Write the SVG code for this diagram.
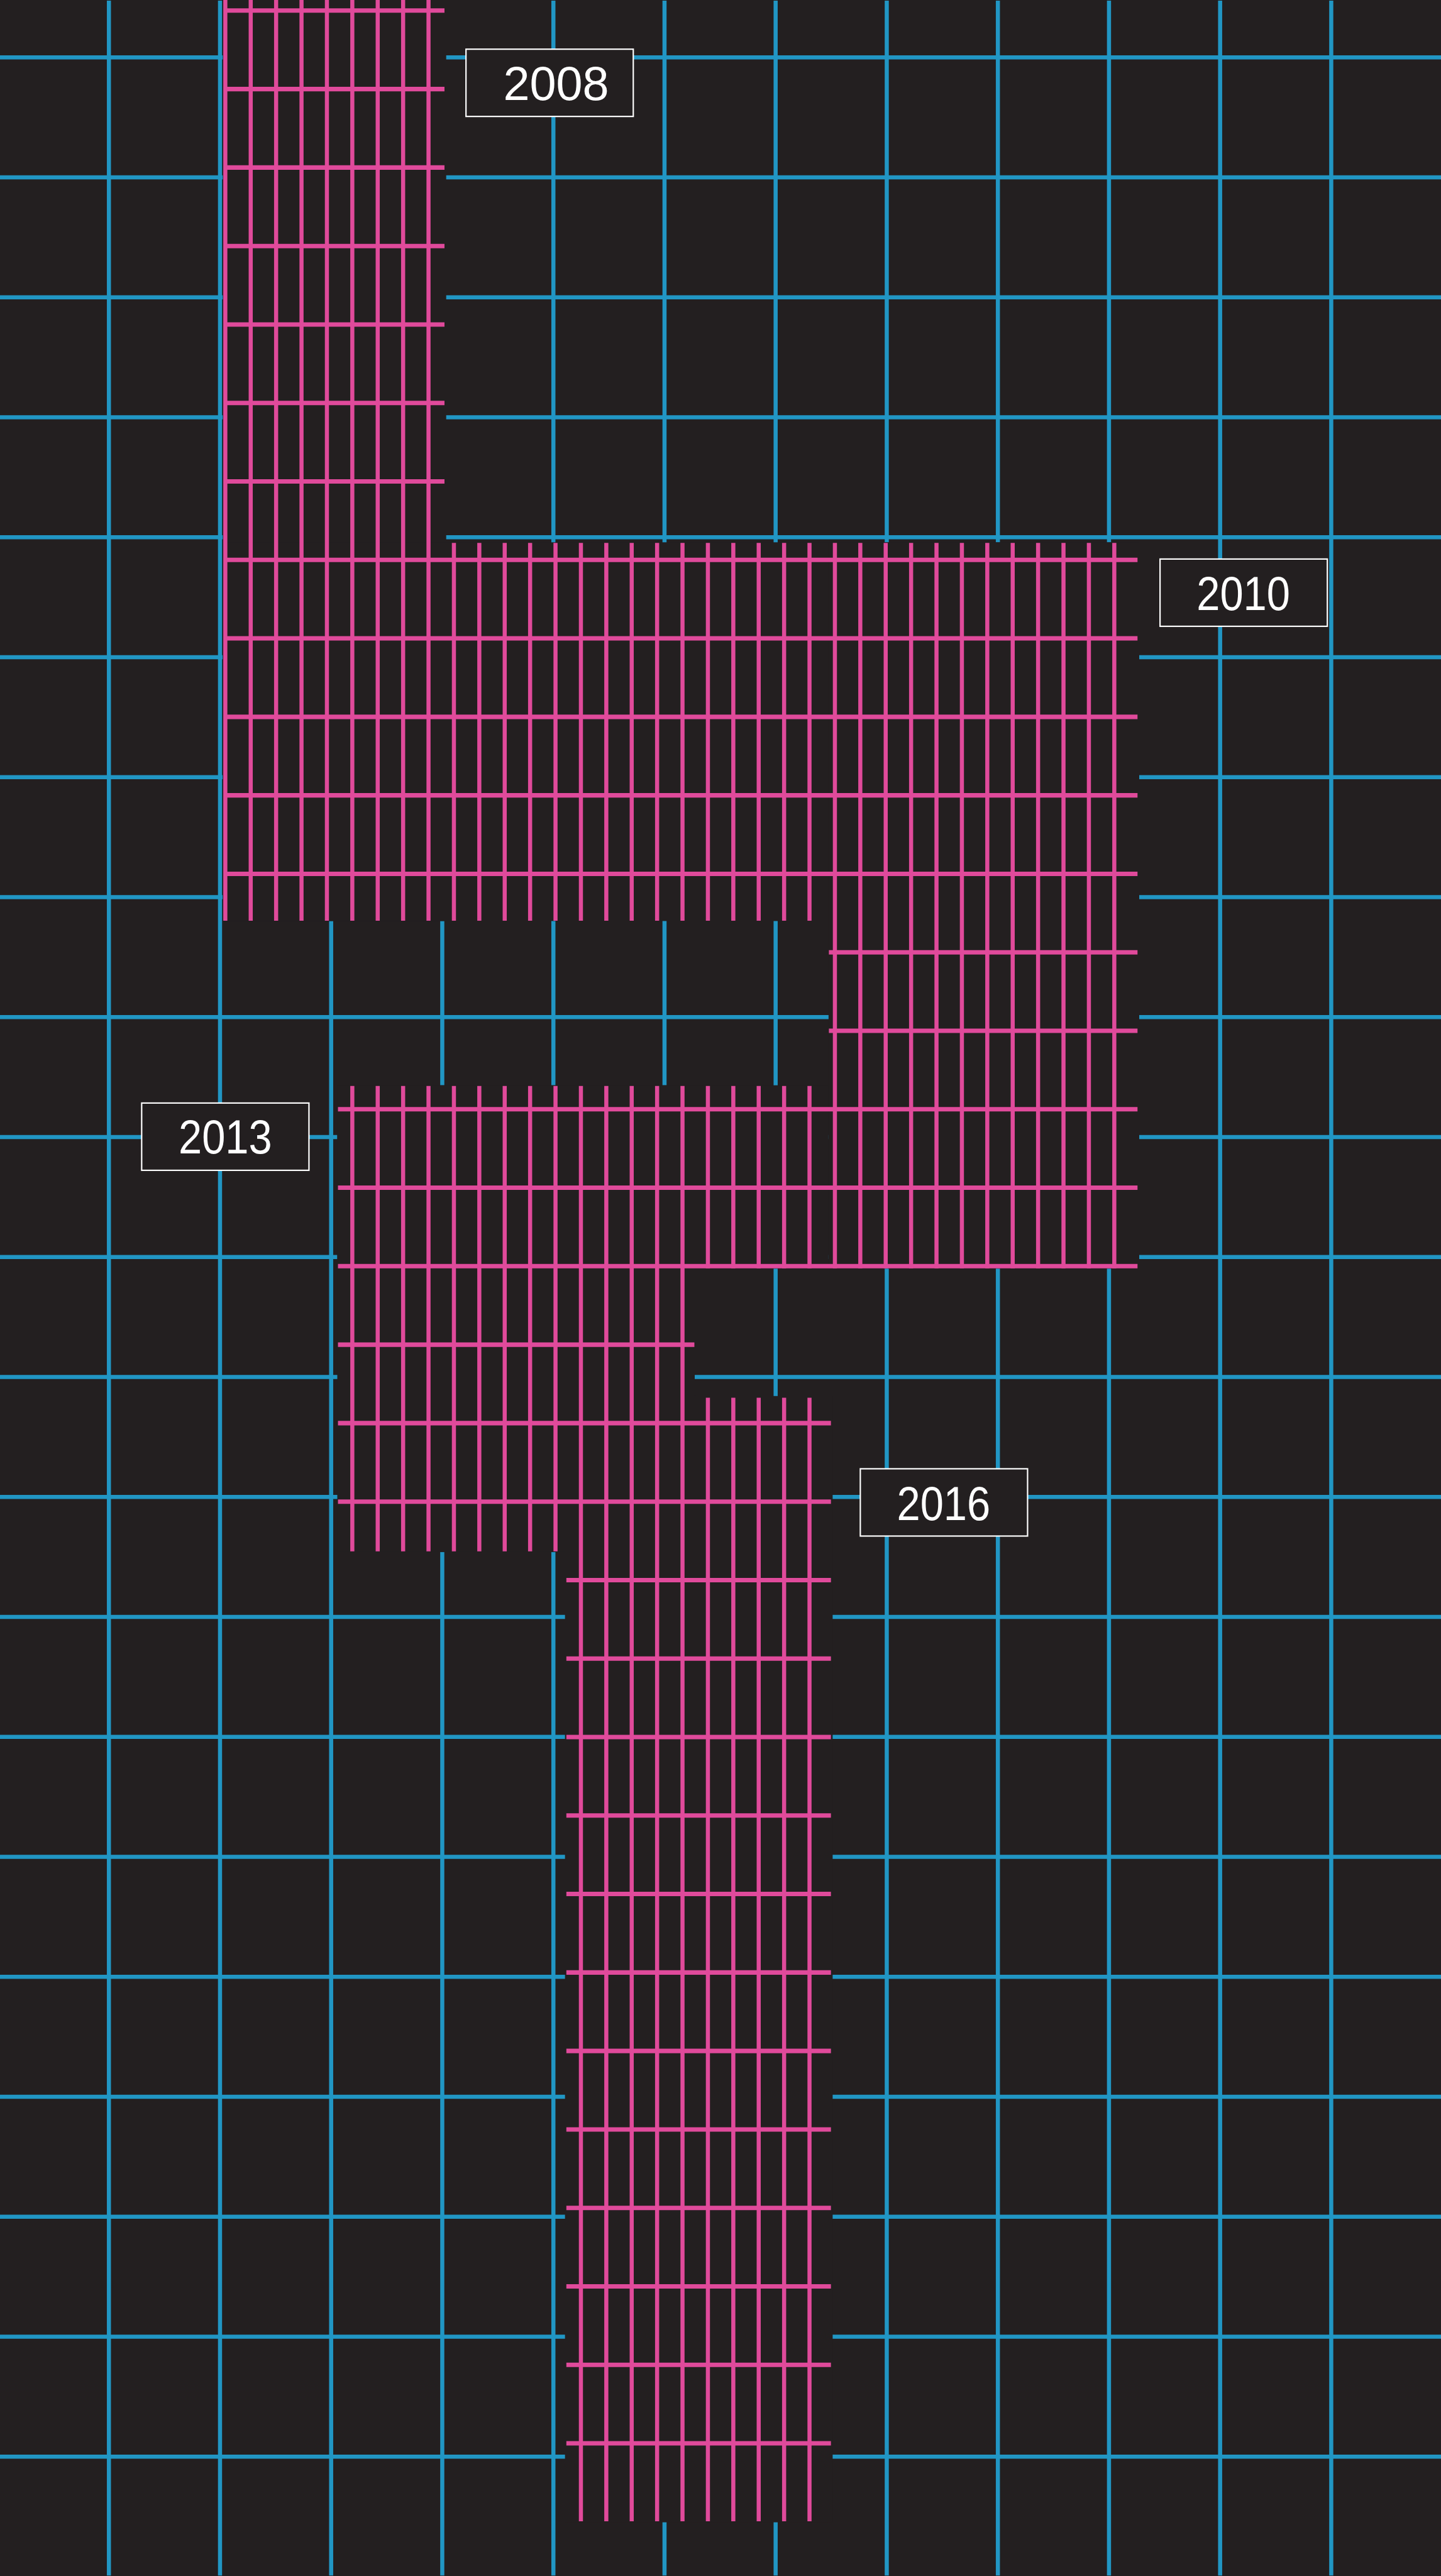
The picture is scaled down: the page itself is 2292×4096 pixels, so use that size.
<svg xmlns="http://www.w3.org/2000/svg" width="2292" height="4096" viewBox="0 0 2292 4096">
<style>
.bg{fill:#231f20}
.blue{stroke:#2196c4;stroke-width:12;fill:none}
.pv{stroke:#e04a9b;stroke-width:12;fill:none}
.ph{stroke:#e04a9b;stroke-width:13;fill:none}
.mask{fill:#231f20}
.box{fill:#231f20;stroke:#ffffff;stroke-width:4}
.yr{font-family:"Liberation Sans",Arial,sans-serif;font-size:140px;fill:#ffffff;text-anchor:middle}
</style>
<rect class="bg" x="0" y="0" width="2292" height="4096"/>
<g transform="scale(0.543)">
<g id="blue-grid">
<path class="blue" d="M0 168H4221M0 519.3H4221M0 870.6H4221M0 1221.9H4221M0 1573.2H4221M0 1924.5H4221M0 2275.8H4221M0 2627.1H4221M0 2978.4H4221M0 3329.7H4221M0 3681H4221M0 4032.3H4221M0 4383.6H4221M0 4734.9H4221M0 5086.2H4221M0 5437.5H4221M0 5788.8H4221M0 6140.1H4221M0 6491.4H4221M0 6842.7H4221M0 7194H4221"/>
<path class="blue" d="M319 2V7542M644.5 2V7542M970 2V7542M1295.5 2V7542M1621 2V7542M1946.5 2V7542M2272 2V7542M2597.5 2V7542M2923 2V7542M3248.5 2V7542M3574 2V7542M3899.5 2V7542"/>
</g>
<g id="blocks">
<g id="block-2008"><rect class="mask" x="652.5" y="-10" width="654.5" height="2707"/></g>
<g id="block-2010"><rect class="mask" x="652.5" y="1588" width="2684.5" height="1109"/><rect class="mask" x="2427" y="1588" width="910" height="2127"/></g>
<g id="block-2013"><rect class="mask" x="988" y="3178" width="1439" height="537"/><rect class="mask" x="988" y="3178" width="1047" height="1367"/></g>
<g id="block-2016"><rect class="mask" x="1655" y="4088" width="784" height="3298"/></g>
</g>
<g id="pink-grid">
<path class="ph" d="M656 31H1302M656 260.8H1302M656 490.6H1302M656 720.4H1302M656 950.2H1302M656 1180H1302M656 1409.8H1302M656 1639.6H3332M656 1869.4H3332M656 2099.2H3332M656 2329H3332M656 2558.8H3332M2428 2788.6H3332M2428 3018.4H3332M990 3248.2H3332M990 3478H3332M990 3707.8H3332M990 3937.6H2034M990 4167.4H2434M990 4397.2H2434M1659 4627H2434M1659 4856.8H2434M1659 5086.6H2434M1659 5316.4H2434M1659 5546.2H2434M1659 5776H2434M1659 6005.8H2434M1659 6235.6H2434M1659 6465.4H2434M1659 6695.2H2434M1659 6925H2434M1659 7154.8H2434"/>
<path class="pv" d="M660 0V2696M734.4 0V2696M808.8 0V2696M883.2 0V2696M957.6 0V2696M1032 0V2696M1106.4 0V2696M1180.8 0V2696M1255.2 0V2696M1329.6 1590V2696M1404 1590V2696M1478.4 1590V2696M1552.8 1590V2696M1627.2 1590V2696M1701.6 1590V2696M1776 1590V2696M1850.4 1590V2696M1924.8 1590V2696M1999.2 1590V2696M2073.6 1590V2696M2148 1590V2696M2222.4 1590V2696M2296.8 1590V2696M2371.2 1590V2696M2445.6 1590V3714M2520 1590V3714M2594.4 1590V3714M2668.8 1590V3714M2743.2 1590V3714M2817.6 1590V3714M2892 1590V3714M2966.4 1590V3714M3040.8 1590V3714M3115.2 1590V3714M3189.6 1590V3714M3264 1590V3714"/>
<path class="pv" d="M1032 3180V4543M1106.4 3180V4543M1180.8 3180V4543M1255.2 3180V4543M1329.6 3180V4543M1404 3180V4543M1478.4 3180V4543M1552.8 3180V4543M1627.2 3180V4543M1701.6 3180V7383M1776 3180V7383M1850.4 3180V7383M1924.8 3180V7383M1999.2 3180V7383M2073.6 3180V3714M2148 3180V3714M2222.4 3180V3714M2296.8 3180V3714M2371.2 3180V3714M2073.6 4093V7383M2148 4093V7383M2222.4 4093V7383M2296.8 4093V7383M2371.2 4093V7383"/>
</g>
<g id="label-2008"><rect class="box" x="1365" y="144" width="490" height="197"/><text class="yr" x="1629" y="293" textLength="310" lengthAdjust="spacingAndGlyphs">2008</text></g>
<g id="label-2010"><rect class="box" x="3398" y="1637" width="490" height="197"/><text class="yr" x="3642" y="1787" textLength="274" lengthAdjust="spacingAndGlyphs">2010</text></g>
<g id="label-2013"><rect class="box" x="415" y="3230" width="490" height="197"/><text class="yr" x="660" y="3378" textLength="274" lengthAdjust="spacingAndGlyphs">2013</text></g>
<g id="label-2016"><rect class="box" x="2520" y="4301" width="490" height="197"/><text class="yr" x="2764" y="4451" textLength="274" lengthAdjust="spacingAndGlyphs">2016</text></g>
</g>
</svg>
